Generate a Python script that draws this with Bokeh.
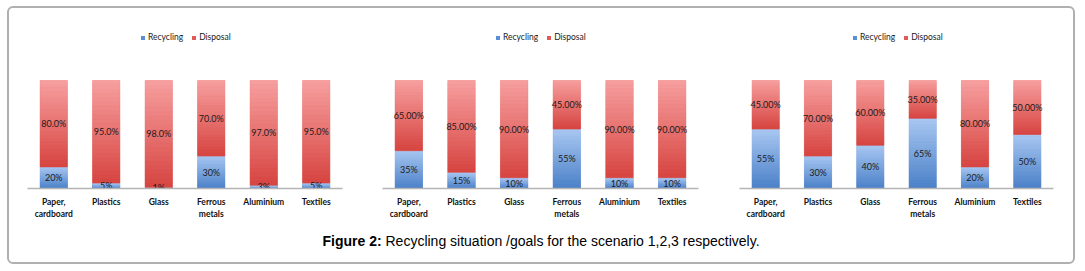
from bokeh.plotting import figure
from bokeh.models import Range1d, FactorRange, Legend, LegendItem, Div, ColumnDataSource
from bokeh.layouts import row, column
from bokeh.embed import file_html
from bokeh.resources import INLINE
from bokeh.core.properties import value

categories = ["Paper,\ncardboard", "Plastics", "Glass", "Ferrous\nmetals", "Aluminium", "Textiles"]

recycling_1 = [20, 5, 1, 30, 3, 5]
disposal_1 = [80, 95, 98, 70, 97, 95]
recycling_2 = [35, 15, 10, 55, 10, 10]
disposal_2 = [65, 85, 90, 45, 90, 90]
recycling_3 = [55, 30, 40, 65, 20, 50]
disposal_3 = [45, 70, 60, 35, 80, 50]

disposal_formats = ["{:.1f}%", "{:.2f}%", "{:.2f}%"]

FONT = "Lato"
BLUE_TOP, BLUE_BOT = (170, 200, 242), (74, 128, 200)
RED_TOP, RED_BOT = (247, 160, 160), (214, 68, 64)

# y range above 1 leaves room inside the frame for the legend
Y_END = 158 / 108


def lerp(c1, c2, t):
    return "#%02x%02x%02x" % tuple(int(round(a + (b - a) * t)) for a, b in zip(c1, c2))


def gradient(p, bottoms, tops, top_col, bot_col, n=24):
    xs, bs, ts, cs = [], [], [], []
    for cat, b, t in zip(categories, bottoms, tops):
        h = (t - b) / n
        for k in range(n):
            xs.append(cat)
            bs.append(b + k * h)
            ts.append(b + (k + 1) * h)
            cs.append(lerp(bot_col, top_col, (k + 0.5) / n))
    p.vbar(x=xs, bottom=bs, top=ts, width=0.52, fill_color=cs, line_color=cs,
           line_width=0.6)


def panel(rec, dis, fmt, width, left, frame_w, right):
    total = [r + d for r, d in zip(rec, dis)]
    rec_top = [r / t for r, t in zip(rec, total)]
    one = [1.0] * len(rec)
    zero = [0.0] * len(rec)
    p = figure(x_range=FactorRange(*categories, range_padding=0), y_range=Range1d(0, Y_END),
               width=width, height=217, output_backend="svg", toolbar_location=None,
               min_border_left=left, min_border_right=right, min_border_top=22,
               min_border_bottom=37, outline_line_color=None, background_fill_color=None,
               border_fill_color=None)
    r1 = p.vbar(x=categories, bottom=zero, top=rec_top, width=0.52,
                fill_color="#5b8fd3", line_color=None)
    r2 = p.vbar(x=categories, bottom=rec_top, top=one, width=0.52,
                fill_color="#e05a57", line_color=None)
    gradient(p, zero, rec_top, BLUE_TOP, BLUE_BOT)
    gradient(p, rec_top, one, RED_TOP, RED_BOT)

    rec_lbl = ["{:d}%".format(v) for v in rec]
    dis_lbl = [fmt.format(v) for v in dis]
    src = ColumnDataSource(dict(
        x=categories + categories,
        y=[t / 2 for t in rec_top] + [(t + 1) / 2 for t in rec_top],
        txt=rec_lbl + dis_lbl))
    p.text(x="x", y="y", text="txt", source=src, text_font=value(FONT),
           text_font_size="9px", text_color="#1a1a1a", text_align="center",
           text_baseline="middle")

    p.yaxis.visible = False
    p.xgrid.visible = False
    p.ygrid.visible = False
    ax = p.xaxis[0]
    ax.axis_line_color = "#b4b4b4"
    ax.axis_line_width = 1.5
    ax.major_tick_line_color = None
    ax.minor_tick_line_color = None
    ax.major_label_text_font = FONT
    ax.major_label_text_font_size = "8.5px"
    ax.major_label_text_color = "#111111"
    ax.major_label_text_font_style = "bold"
    ax.major_label_standoff = 2
    ax.major_label_orientation = "horizontal"

    leg = Legend(items=[LegendItem(label="Recycling", renderers=[r1]),
                        LegendItem(label="Disposal", renderers=[r2])],
                 orientation="horizontal", location=(113, 146), padding=0, margin=0,
                 spacing=8, glyph_width=5, glyph_height=5, label_standoff=3,
                 label_height=10, label_text_font=FONT,
                 label_text_font_size="8.5px", label_text_color="#1a1a1a",
                 border_line_color=None, background_fill_alpha=0)
    p.add_layout(leg, "center")
    return p


p1 = panel(recycling_1, disposal_1, disposal_formats[0], 352, 18, 315, 19)
p2 = panel(recycling_2, disposal_2, disposal_formats[1], 356, 21, 316, 19)
p3 = panel(recycling_3, disposal_3, disposal_formats[2], 356, 22, 314, 20)

caption = Div(text="<b>Figure 2:</b> Recycling situation /goals for the scenario 1,2,3 respectively.",
              width=1064, height=37, margin=0,
              styles={"font-family": "'Liberation Sans', Arial, sans-serif", "font-size": "14px",
                      "text-align": "center", "line-height": "32px", "color": "#000",
                      "width": "1064px"})

layout = column(row(p1, p2, p3, spacing=0), caption, spacing=0,
                margin=(6, 0, 0, 7),
                styles={"border": "2px solid #b0b0b0", "border-radius": "6px"})

open("out.html", "w").write(file_html(layout, INLINE))
